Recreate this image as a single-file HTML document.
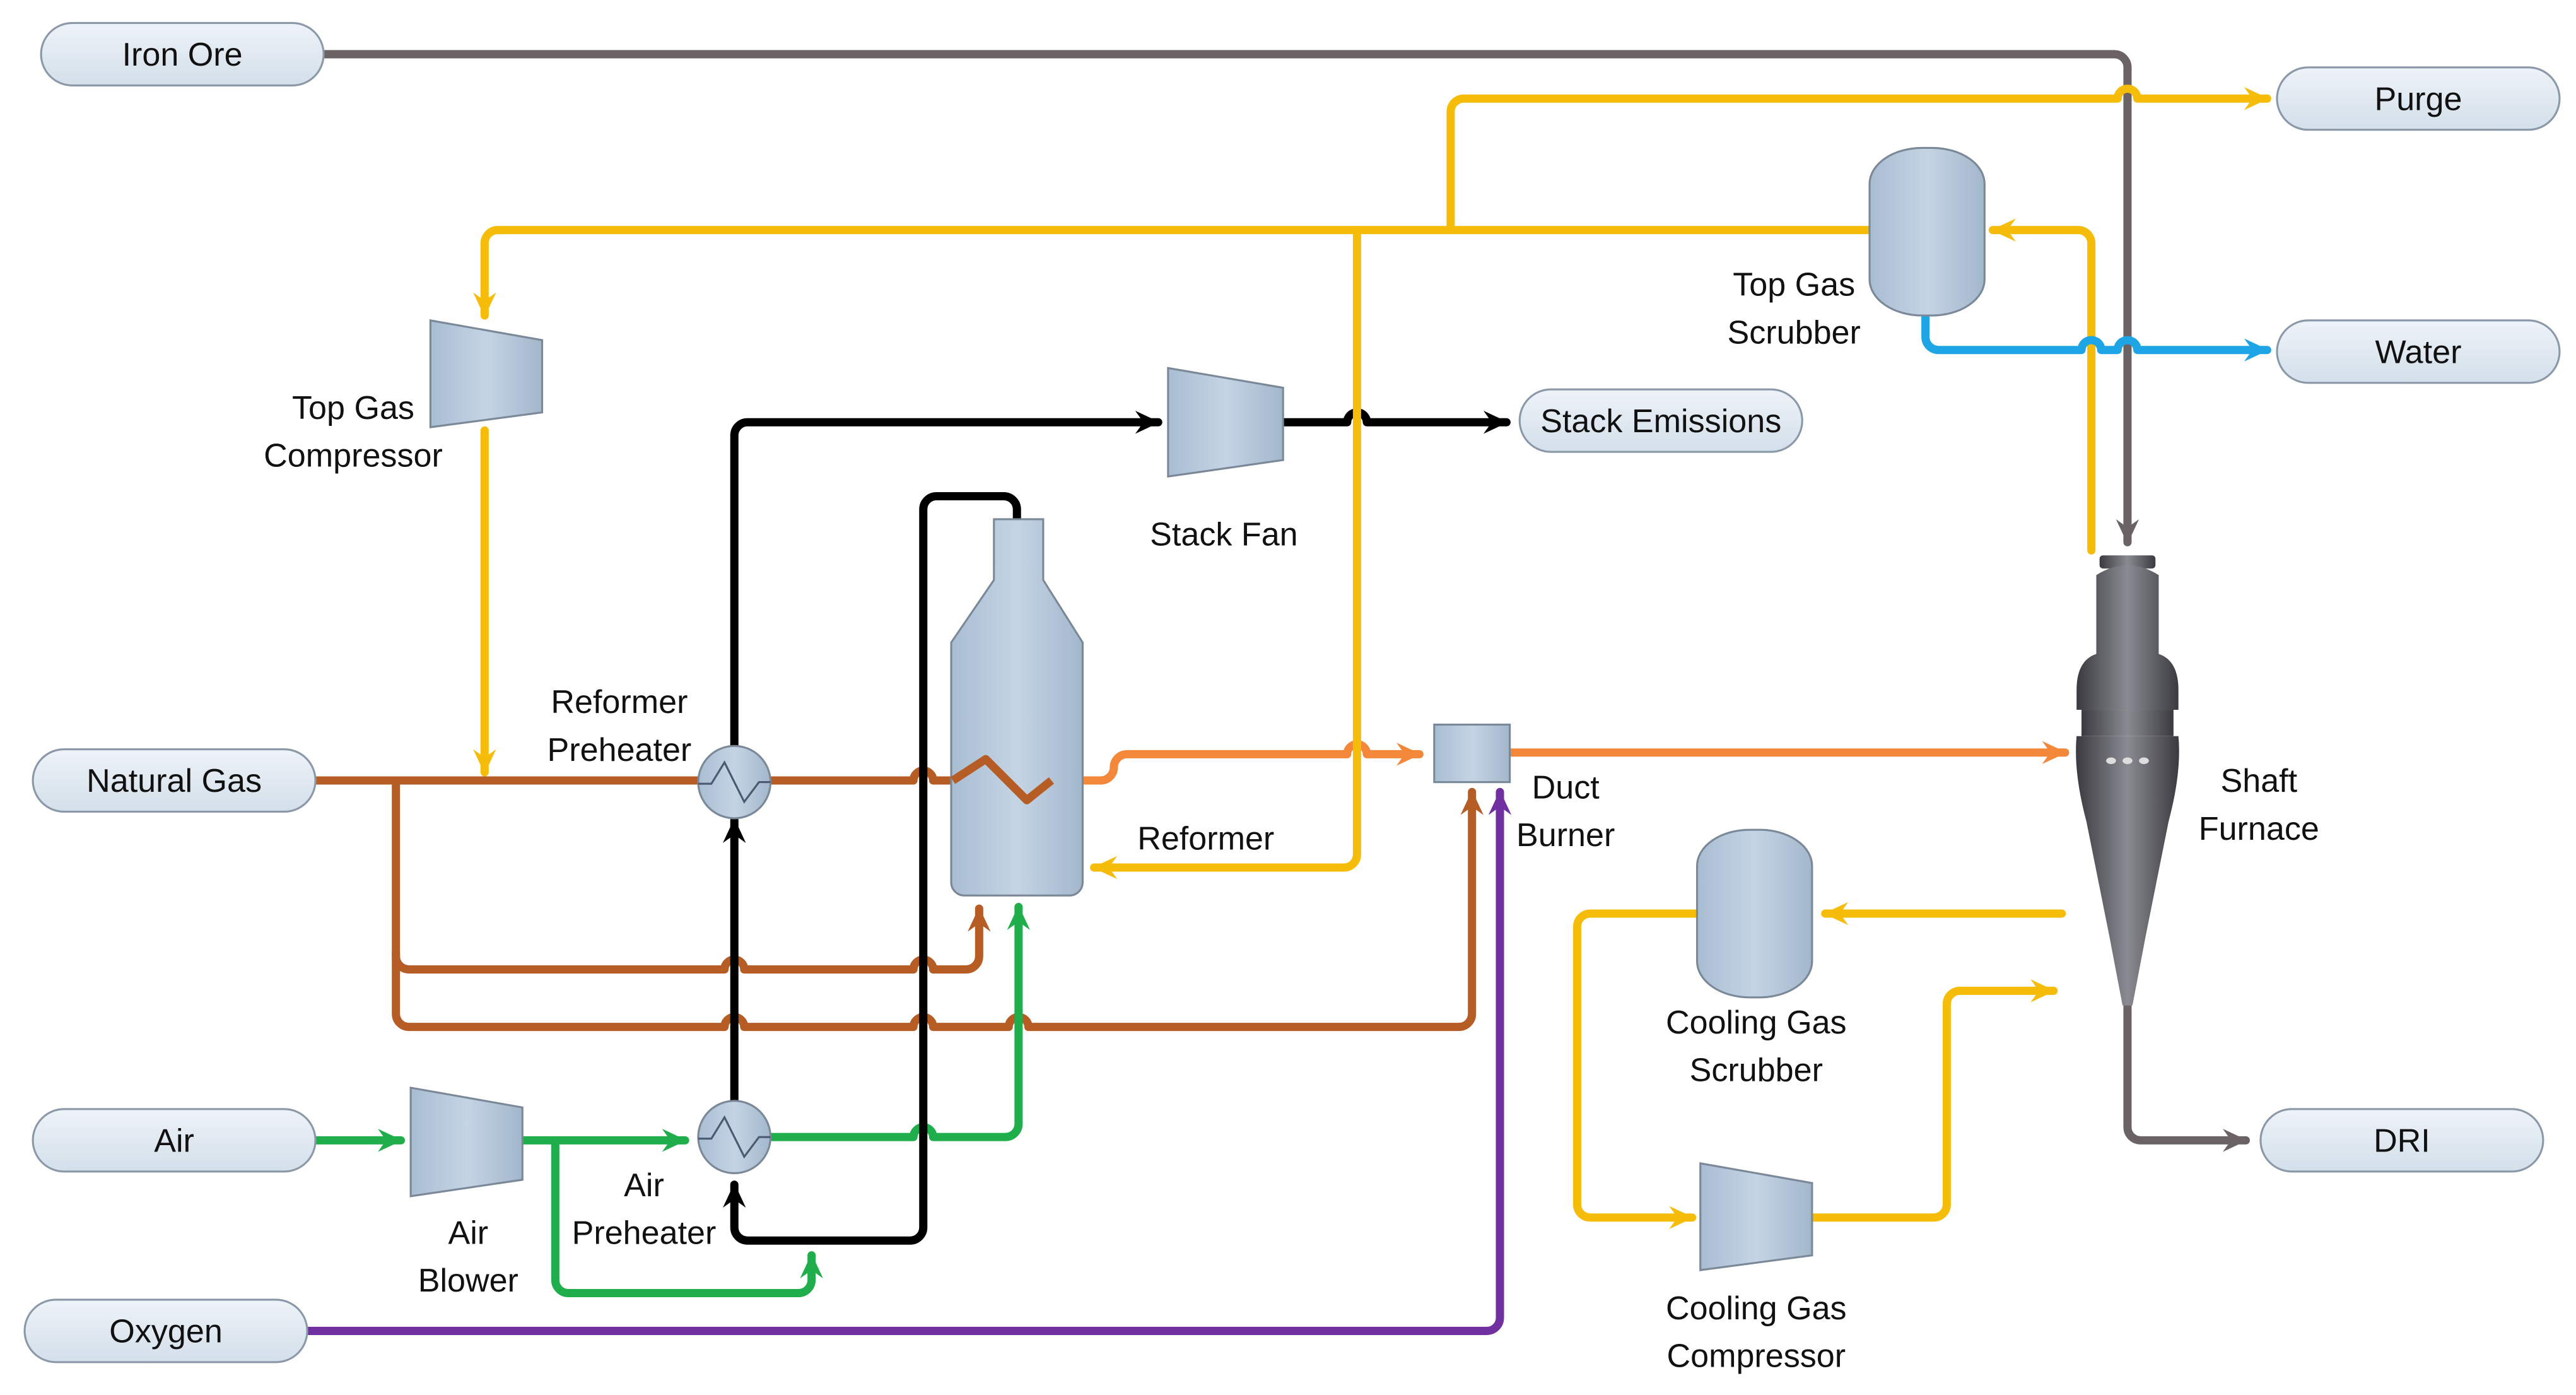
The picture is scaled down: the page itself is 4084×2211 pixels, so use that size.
<!DOCTYPE html>
<html><head><meta charset="utf-8"><style>
html,body{margin:0;padding:0;background:#fff;}
svg{display:block;}
text{font-family:"Liberation Sans",sans-serif;font-size:20px;fill:#111;text-anchor:middle;}
</style></head><body>
<svg width="4084" height="2211" viewBox="0 0 1568 849" preserveAspectRatio="none" xmlns="http://www.w3.org/2000/svg">
<defs>
<linearGradient id="term" x1="0" y1="0" x2="0" y2="1"><stop offset="0" stop-color="#eef3f8"/><stop offset="1" stop-color="#d3dfea"/></linearGradient>
<linearGradient id="eq" x1="0" y1="0" x2="1" y2="0"><stop offset="0" stop-color="#a9bdd2"/><stop offset="0.5" stop-color="#c4d4e4"/><stop offset="1" stop-color="#a3b7cc"/></linearGradient>
<linearGradient id="furn" x1="0" y1="0" x2="1" y2="0"><stop offset="0" stop-color="#3a3a40"/><stop offset="0.5" stop-color="#8a8a92"/><stop offset="1" stop-color="#3a3a40"/></linearGradient>
<marker id="aY" markerUnits="userSpaceOnUse" markerWidth="20" markerHeight="20" refX="16" refY="10" orient="auto"><path d="M2,3 L17,10 L2,17 L7,10 Z" fill="#f5bd0a"/></marker>
<marker id="aK" markerUnits="userSpaceOnUse" markerWidth="20" markerHeight="20" refX="16" refY="10" orient="auto"><path d="M2,3 L17,10 L2,17 L7,10 Z" fill="#000"/></marker>
<marker id="aG" markerUnits="userSpaceOnUse" markerWidth="20" markerHeight="20" refX="16" refY="10" orient="auto"><path d="M2,3 L17,10 L2,17 L7,10 Z" fill="#1fae4b"/></marker>
<marker id="aB" markerUnits="userSpaceOnUse" markerWidth="20" markerHeight="20" refX="16" refY="10" orient="auto"><path d="M2,3 L17,10 L2,17 L7,10 Z" fill="#b65c25"/></marker>
<marker id="aO" markerUnits="userSpaceOnUse" markerWidth="20" markerHeight="20" refX="16" refY="10" orient="auto"><path d="M2,3 L17,10 L2,17 L7,10 Z" fill="#f4883a"/></marker>
<marker id="aP" markerUnits="userSpaceOnUse" markerWidth="20" markerHeight="20" refX="16" refY="10" orient="auto"><path d="M2,3 L17,10 L2,17 L7,10 Z" fill="#7030a0"/></marker>
<marker id="aW" markerUnits="userSpaceOnUse" markerWidth="20" markerHeight="20" refX="16" refY="10" orient="auto"><path d="M2,3 L17,10 L2,17 L7,10 Z" fill="#1ea5e5"/></marker>
<marker id="aR" markerUnits="userSpaceOnUse" markerWidth="20" markerHeight="20" refX="16" refY="10" orient="auto"><path d="M2,3 L17,10 L2,17 L7,10 Z" fill="#6a6264"/></marker>
</defs>
<g fill="none" stroke-width="5" stroke-linecap="round" stroke-linejoin="round">
<!-- brown natural gas -->
<path d="M192,475 H425" stroke="#b65c25"/>
<path d="M469,475 H556 a6,6 0 0 1 12,0 H580 L600,462 L625,487 L640,475" stroke="#b65c25"/>
<path d="M241,475 V582 a8,8 0 0 0 8,8 H441 a6,6 0 0 1 12,0 H556 a6,6 0 0 1 12,0 H588 a8,8 0 0 0 8,-8 V553" stroke="#b65c25" marker-end="url(#aB)"/>
<path d="M241,580 V617 a8,8 0 0 0 8,8 H441 a6,6 0 0 1 12,0 H556 a6,6 0 0 1 12,0 H614 a6,6 0 0 1 12,0 H888 a8,8 0 0 0 8,-8 V482" stroke="#b65c25" marker-end="url(#aB)"/>
<!-- orange -->
<path d="M640,475 H670 a8,8 0 0 0 8,-8 a8,8 0 0 1 8,-8 H820 a6,6 0 0 1 12,0 H864" stroke="#f4883a" marker-end="url(#aO)"/>
<path d="M919,458 H1257" stroke="#f4883a" marker-end="url(#aO)"/>
<!-- purple -->
<path d="M187,810 H905 a8,8 0 0 0 8,-8 V482" stroke="#7030a0" marker-end="url(#aP)"/>
<!-- green -->
<path d="M192,694 H244" stroke="#1fae4b" marker-end="url(#aG)"/>
<path d="M318,694 H417" stroke="#1fae4b" marker-end="url(#aG)"/>
<path d="M338,694 V779 a8,8 0 0 0 8,8 H486 a8,8 0 0 0 8,-8 V764" stroke="#1fae4b" marker-end="url(#aG)"/>
<path d="M469,692 H556 a6,6 0 0 1 12,0 H612 a8,8 0 0 0 8,-8 V552" stroke="#1fae4b" marker-end="url(#aG)"/>
<!-- black -->
<path d="M447,454 V265 a8,8 0 0 1 8,-8 H705" stroke="#000" marker-end="url(#aK)"/>
<path d="M781,257 H820 a6,6 0 0 1 12,0 H917" stroke="#000" marker-end="url(#aK)"/>
<path d="M447,670 V499" stroke="#000" marker-end="url(#aK)"/>
<path d="M619,318 V310 a8,8 0 0 0 -8,-8 H570 a8,8 0 0 0 -8,8 V747 a8,8 0 0 1 -8,8 H455 a8,8 0 0 1 -8,-8 V721" stroke="#000" marker-end="url(#aK)"/>
<!-- grey -->
<path d="M197,33 H1287 a8,8 0 0 1 8,8 V330" stroke="#6a6264" marker-end="url(#aR)"/>
<path d="M1295,610 V686 a8,8 0 0 0 8,8 H1367" stroke="#6a6264" marker-end="url(#aR)"/>
<!-- yellow -->
<path d="M1140,140 H303 a8,8 0 0 0 -8,8 V192" stroke="#f5bd0a" marker-end="url(#aY)"/>
<path d="M883,140 V68 a8,8 0 0 1 8,-8 H1289 a6,6 0 0 1 12,0 H1380" stroke="#f5bd0a" marker-end="url(#aY)"/>
<path d="M826,140 V520 a8,8 0 0 1 -8,8 H666" stroke="#f5bd0a" marker-end="url(#aY)"/>
<path d="M295,262 V470" stroke="#f5bd0a" marker-end="url(#aY)"/>
<path d="M1273,335 V148 a8,8 0 0 0 -8,-8 H1213" stroke="#f5bd0a" marker-end="url(#aY)"/>
<path d="M1255,556 H1111" stroke="#f5bd0a" marker-end="url(#aY)"/>
<path d="M1033,556 H968 a8,8 0 0 0 -8,8 V733 a8,8 0 0 0 8,8 H1030" stroke="#f5bd0a" marker-end="url(#aY)"/>
<path d="M1103,741 H1177 a8,8 0 0 0 8,-8 V611 a8,8 0 0 1 8,-8 H1250" stroke="#f5bd0a" marker-end="url(#aY)"/>
<!-- blue -->
<path d="M1172,192 V205 a8,8 0 0 0 8,8 H1267 a6,6 0 0 1 12,0 H1289 a6,6 0 0 1 12,0 H1380" stroke="#1ea5e5" marker-end="url(#aW)"/>
</g>
<!-- equipment -->
<g stroke="#7a8898" stroke-width="1.2" fill="url(#eq)">
<path d="M262,195 L330,207 L330,251 L262,260 Z"/>
<path d="M711,224 L781,236 L781,280 L711,290 Z"/>
<path d="M250,662 L318,674 L318,718 L250,728 Z"/>
<path d="M1035,708 L1103,720 L1103,764 L1035,773 Z"/>
<rect x="1138" y="90" width="70" height="102" rx="32" ry="22"/>
<rect x="1033" y="505" width="70" height="102" rx="32" ry="22"/>
<path d="M605,316 H635 V353 L659,391 V537 a8,8 0 0 1 -8,8 H587 a8,8 0 0 1 -8,-8 V391 L605,353 Z"/>
<rect x="873" y="441" width="46" height="35"/>
<circle cx="447" cy="476" r="22"/>
<circle cx="447" cy="692" r="22"/>
</g>
<path d="M425,477 H433 L441,464 L453,488 L462,476 H469" fill="none" stroke="#4a5a70" stroke-width="1.2"/>
<path d="M425,693 H433 L441,680 L453,704 L462,692 H469" fill="none" stroke="#4a5a70" stroke-width="1.2"/>
<path d="M580,475 L600,462 L625,487 L640,475" fill="none" stroke="#b65c25" stroke-width="5" stroke-linejoin="round"/>
<!-- shaft furnace -->
<g fill="url(#furn)">
<rect x="1278" y="338" width="34" height="8" rx="2"/>
<path d="M1276,350 Q1295,338 1314,350 V398 Q1326,402 1326,420 V432 H1264 V420 Q1264,402 1276,398 Z"/>
<rect x="1267" y="432" width="56" height="16"/>
<path d="M1264,448 H1326 Q1328,470 1320,500 L1312,540 L1306,570 L1298,612 H1292 L1284,570 L1278,540 L1270,500 Q1262,470 1264,448 Z"/>
</g>
<g fill="#ddd"><ellipse cx="1285" cy="463" rx="3" ry="2"/><ellipse cx="1295" cy="463" rx="3" ry="2"/><ellipse cx="1305" cy="463" rx="3" ry="2"/></g>
<!-- terminals -->
<g stroke="#8a98a8" stroke-width="1.2" fill="url(#term)">
<rect x="25" y="14" width="172" height="38" rx="19"/>
<rect x="1386" y="41" width="172" height="38" rx="19"/>
<rect x="1386" y="195" width="172" height="38" rx="19"/>
<rect x="925" y="237" width="172" height="38" rx="19"/>
<rect x="20" y="456" width="172" height="38" rx="19"/>
<rect x="20" y="675" width="172" height="38" rx="19"/>
<rect x="15" y="791" width="172" height="38" rx="19"/>
<rect x="1376" y="675" width="172" height="38" rx="19"/>
</g>
<text x="111" y="40">Iron Ore</text>
<text x="1472" y="67">Purge</text>
<text x="1472" y="221">Water</text>
<text x="1011" y="263">Stack Emissions</text>
<text x="106" y="482">Natural Gas</text>
<text x="106" y="701">Air</text>
<text x="101" y="817">Oxygen</text>
<text x="1462" y="701">DRI</text>
<text x="215" y="255">Top Gas</text><text x="215" y="284">Compressor</text>
<text x="745" y="332">Stack Fan</text>
<text x="377" y="434">Reformer</text><text x="377" y="463">Preheater</text>
<text x="734" y="517">Reformer</text>
<text x="953" y="486">Duct</text><text x="953" y="515">Burner</text>
<text x="1092" y="180">Top Gas</text><text x="1092" y="209">Scrubber</text>
<text x="1375" y="482">Shaft</text><text x="1375" y="511">Furnace</text>
<text x="1069" y="629">Cooling Gas</text><text x="1069" y="658">Scrubber</text>
<text x="1069" y="803">Cooling Gas</text><text x="1069" y="832">Compressor</text>
<text x="285" y="757">Air</text><text x="285" y="786">Blower</text>
<text x="392" y="728">Air</text><text x="392" y="757">Preheater</text>
</svg>
</body></html>
